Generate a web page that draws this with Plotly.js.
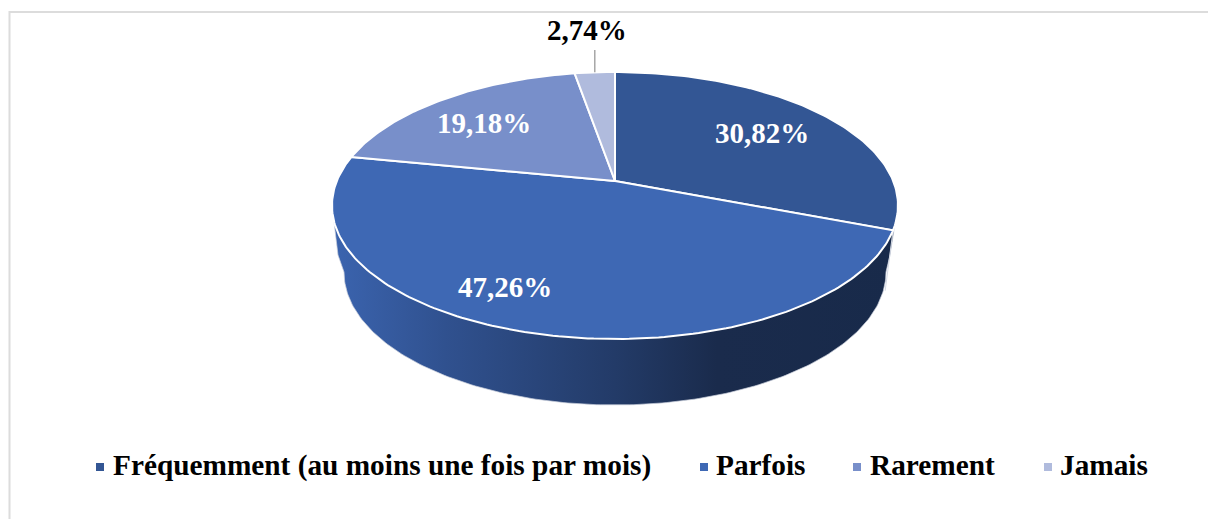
<!DOCTYPE html>
<html>
<head>
<meta charset="utf-8">
<script src="https://cdn.plot.ly/plotly-3.0.1.min.js"></script>
<style>html,body{margin:0;padding:0;background:#fff}#chart{width:1208px;height:519px}</style>
</head>
<body>
<div id="chart"></div>
<script>
const categories = ["Fréquemment (au moins une fois par mois)", "Parfois", "Rarement", "Jamais"];
const values = [30.82, 47.26, 19.18, 2.74];
const valueLabels = ["30,82%", "47,26%", "19,18%", "2,74%"];
const sliceColors = ["#335694", "#3E68B4", "#788FCA", "#B0BBDD"];
const labelColors = ["#ffffff", "#ffffff", "#ffffff", "#000000"];
const labelX = [762, 505, 484, 587];
const labelY = [133, 287, 123, 30];
const legendMarkX = [100, 704, 857, 1048];
const legendTextX = [111, 714, 868, 1058];

const FONT = '"Liberation Serif", "Times New Roman", serif';
const top_ = {cx: 615, cy: 205.5, rx: 283, ry: 133.5};
const low = {cx: 615, cy: 272, rx: 271, ry: 133};
const seamEnd = {cx: 615, cy: 266, rx: 275, ry: 133};
const K = 0.1835;               // perspective of the tilted disc
const C = Math.sqrt(1 - K * K);

// Angle (deg, clockwise from 12 o'clock) -> point on the perspective disc
function proj(e, deg, r) {
  const a = deg * Math.PI / 180;
  const u = r * Math.sin(a), v = r * Math.cos(a);
  const w = 1 + K * v;
  return [e.cx + e.rx * C * u / w, e.cy - e.ry * (v + K) / w];
}
function arc(e, d0, d1) {
  const n = Math.max(2, Math.ceil(Math.abs(d1 - d0)));
  const pts = [];
  for (let i = 0; i <= n; i++) pts.push(proj(e, d0 + (d1 - d0) * i / n, 1));
  return pts;
}
const total = values.reduce((a, b) => a + b, 0);
let run = 0;
const starts = values.map(v => { const s = run; run += v; return 360 * s / total; });
const ends = starts.map((s, i) => s + 360 * values[i] / total);

const traces = [];

// Outer wall of the cylinder: bottom rim joined to the silhouette of the top face
const wallPts = [];
for (let i = 0; i <= 180; i++) {
  const t = i * Math.PI / 180;
  wallPts.push([low.cx - low.rx * Math.cos(t), low.cy + low.ry * Math.sin(t)]);
}
const wall = [[top_.cx - top_.rx, top_.cy], [338, 255]]
  .concat(wallPts, [[890, 255], [top_.cx + top_.rx, top_.cy]]);
traces.push({
  type: "scatter", mode: "lines", showlegend: false, hoverinfo: "skip",
  x: wall.map(p => p[0]), y: wall.map(p => p[1]),
  fill: "toself",
  line: {width: 0.7, color: "#c9cfdb"},
  fillgradient: {
    type: "horizontal",
    colorscale: [[0, "#3B64AF"], [0.2, "#30518F"], [0.5, "#233B68"], [0.68, "#1A2B4C"], [1, "#182A4A"]]
  }
});

// Seam on the wall at the end of the first slice
const seamA = proj(top_, ends[0], 1), seamB = proj(seamEnd, ends[0], 1);
traces.push({
  type: "scatter", mode: "lines", showlegend: false, hoverinfo: "skip",
  x: [seamA[0], seamB[0]], y: [seamA[1], seamB[1]],
  line: {width: 1, color: "#d5dae4"}
});

// Top face slices
values.forEach((v, i) => {
  const pts = [proj(top_, 0, 0)].concat(arc(top_, starts[i], ends[i]));
  pts.push(pts[0]);
  traces.push({
    type: "scatter", mode: "lines", name: categories[i], showlegend: false,
    x: pts.map(p => p[0]), y: pts.map(p => p[1]),
    fill: "toself", fillcolor: sliceColors[i],
    line: {width: 2, color: "#ffffff"},
    text: valueLabels[i], hoverinfo: "name+text"
  });
});

// Leader line for the smallest slice
const lastMid = (starts[3] + ends[3]) / 2;
const rim = proj(top_, lastMid, 1);
traces.push({
  type: "scatter", mode: "lines", showlegend: false, hoverinfo: "skip",
  x: [rim[0], rim[0]], y: [rim[1], 50],
  line: {width: 1.5, color: "#a6a6a6"}
});

// Legend swatches
traces.push({
  type: "scatter", mode: "markers", showlegend: false, hoverinfo: "skip",
  x: legendMarkX, y: legendMarkX.map(() => 467),
  marker: {symbol: "square", size: 8, color: sliceColors}
});

const annotations = [];
valueLabels.forEach((t, i) => annotations.push({
  x: labelX[i], y: labelY[i], xref: "x", yref: "y", text: "<b>" + t + "</b>",
  showarrow: false, xanchor: "center", yanchor: "middle",
  font: {family: FONT, size: 29, color: labelColors[i]}
}));
categories.forEach((t, i) => annotations.push({
  x: legendTextX[i], y: 465, xref: "x", yref: "y", text: "<b>" + t + "</b>",
  showarrow: false, xanchor: "left", yanchor: "middle",
  font: {family: FONT, size: 29.3, color: "#000000"}
}));

const layout = {
  width: 1208, height: 519,
  margin: {l: 0, r: 0, t: 0, b: 0},
  paper_bgcolor: "#ffffff", plot_bgcolor: "#ffffff",
  showlegend: false,
  xaxis: {range: [0, 1208], visible: false, fixedrange: true},
  yaxis: {range: [519, 0], visible: false, fixedrange: true},
  annotations: annotations,
  shapes: [
    {type: "line", xref: "x", yref: "y", x0: 9.5, x1: 1208, y0: 12, y1: 12, line: {color: "#dcdcdc", width: 2}},
    {type: "line", xref: "x", yref: "y", x0: 9.5, x1: 9.5, y0: 11, y1: 519, line: {color: "#dcdcdc", width: 2}}
  ]
};
Plotly.newPlot("chart", traces, layout, {displayModeBar: false, responsive: false});
</script>
</body>
</html>
